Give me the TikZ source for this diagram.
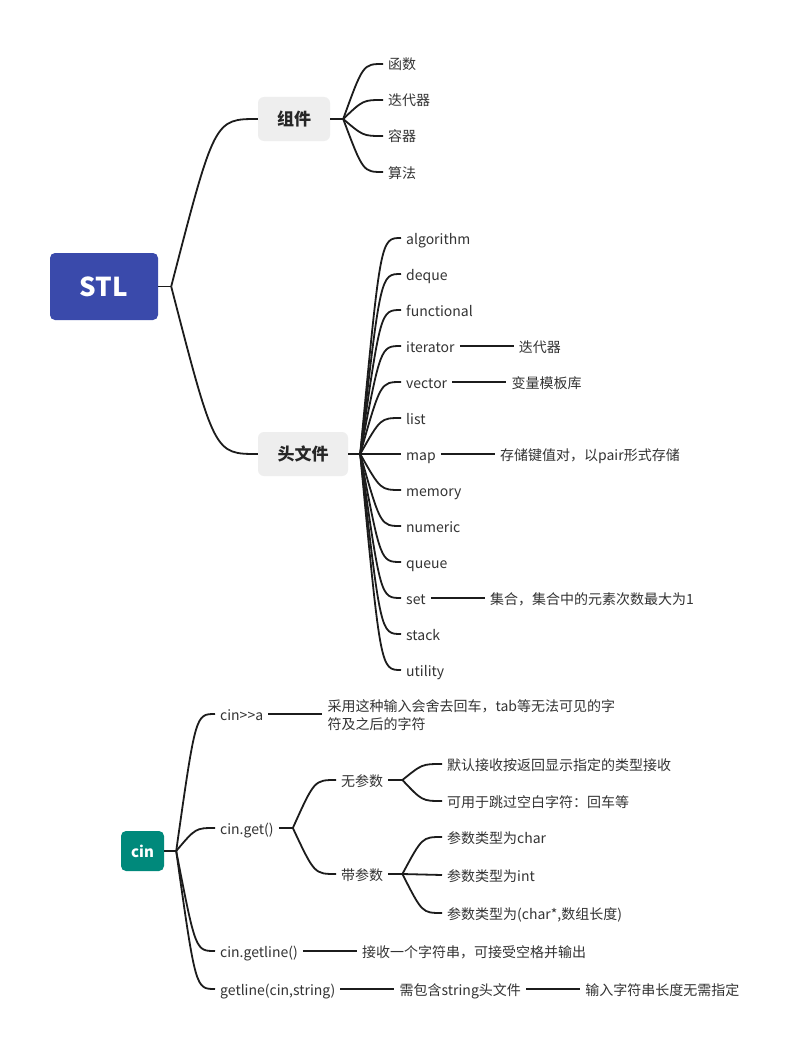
\documentclass[tikz,border=0pt]{standalone}
\usepackage{fontspec}
\setmainfont{Noto Sans CJK SC}
\usetikzlibrary{positioning,calc}
\definecolor{stlblue}{RGB}{58,74,171}
\definecolor{cinteal}{RGB}{0,137,123}
\definecolor{topicgray}{RGB}{238,238,238}
\definecolor{inkgray}{RGB}{51,51,51}
\definecolor{linkblack}{RGB}{28,28,28}
\tikzset{
	rootbox/.style = {rectangle, rounded corners = 5pt, text = white, inner sep = 0pt, font = \fontsize{26}{30}\selectfont\bfseries},
	topicbox/.style = {rectangle, rounded corners = 6pt, fill = topicgray, minimum height = 44pt, inner sep = 0pt, text = black!85, font = \fontsize{17}{20}\selectfont\bfseries},
	leafnode/.style = {anchor = west, inner xsep = 5pt, inner ysep = 0pt, text height = 13pt, text depth = 1pt, text = inkgray, font = \fontsize{14}{17}\selectfont},
	notenode/.style = {anchor = west, inner xsep = 5pt, inner ysep = 0pt, align = left, text = inkgray, font = \fontsize{14}{18}\selectfont},
	linkline/.style = {line width = 1.8pt, draw = linkblack},
	fanout/.style = {to path = {let \p1 = (\tikztostart), \p2 = (\tikztotarget), \n1 = {0.5*(\x1+\x2)} in .. controls (\n1,\y2) and (\n1,\y2) .. (\tikztotarget)}}
}
\begin{document}
\begin{tikzpicture}[x = 1pt, y = 1pt]
	\path[use as bounding box, fill = white] (0,0) rectangle (795,-1054);
	
	% Root STL and its two topics
	\node[rootbox, fill = stlblue, minimum width = 108pt, minimum height = 67pt] (stl) at (104,-286.5) {STL};
	\node[topicbox, minimum width = 72pt] (comp) at (294,-119) {组件};
	\node[topicbox, minimum width = 90pt] (hdr) at (303,-454) {头文件};
	\coordinate[right = 13pt of stl] (stlj);
	\draw[linkline] (stl) -- (stlj);
	\draw[linkline] (stlj) to[fanout] (comp.west);
	\draw[linkline] (stlj) to[fanout] (hdr.west);
	
	% Components
	\coordinate[right = 13pt of comp] (compj);
	\node[leafnode] (func) at (383,-64) {函数};
	\node[leafnode] (iterc) at (383,-100) {迭代器};
	\node[leafnode] (cont) at (383,-136) {容器};
	\node[leafnode] (algo) at (383,-172) {算法};
	\draw[linkline] (comp) -- (compj);
	\draw[linkline] (compj) to[fanout] (func.west);
	\draw[linkline] (compj) to[fanout] (iterc.west);
	\draw[linkline] (compj) to[fanout] (cont.west);
	\draw[linkline] (compj) to[fanout] (algo.west);
	
	% Header files
	\coordinate[right = 12pt of hdr] (hdrj);
	\node[leafnode] (alg) at (401,-238) {algorithm};
	\node[leafnode] (deq) at (401,-274) {deque};
	\node[leafnode] (fnl) at (401,-310) {functional};
	\node[leafnode] (iter) at (401,-346) {iterator};
	\node[leafnode] (vec) at (401,-382) {vector};
	\node[leafnode] (lst) at (401,-418) {list};
	\node[leafnode] (mp) at (401,-454) {map};
	\node[leafnode] (mem) at (401,-490) {memory};
	\node[leafnode] (num) at (401,-526) {numeric};
	\node[leafnode] (que) at (401,-562) {queue};
	\node[leafnode] (st) at (401,-598) {set};
	\node[leafnode] (stk) at (401,-634) {stack};
	\node[leafnode] (utl) at (401,-670) {utility};
	\draw[linkline] (hdr) -- (hdrj);
	\draw[linkline] (hdrj) to[fanout] (alg.west);
	\draw[linkline] (hdrj) to[fanout] (deq.west);
	\draw[linkline] (hdrj) to[fanout] (fnl.west);
	\draw[linkline] (hdrj) to[fanout] (iter.west);
	\draw[linkline] (hdrj) to[fanout] (vec.west);
	\draw[linkline] (hdrj) to[fanout] (lst.west);
	\draw[linkline] (hdrj) to[fanout] (mp.west);
	\draw[linkline] (hdrj) to[fanout] (mem.west);
	\draw[linkline] (hdrj) to[fanout] (num.west);
	\draw[linkline] (hdrj) to[fanout] (que.west);
	\draw[linkline] (hdrj) to[fanout] (st.west);
	\draw[linkline] (hdrj) to[fanout] (stk.west);
	\draw[linkline] (hdrj) to[fanout] (utl.west);
	
	% Notes on some headers
	\node[leafnode, right = 54pt of iter] (iterd) {迭代器};
	\node[leafnode, right = 54pt of vec] (vecd) {变量模板库};
	\node[leafnode, right = 54pt of mp] (mpd) {存储键值对，以pair形式存储};
	\node[leafnode, right = 54pt of st] (std) {集合，集合中的元素次数最大为1};
	\draw[linkline] (iter.east) -- (iterd.west);
	\draw[linkline] (vec.east) -- (vecd.west);
	\draw[linkline] (mp.east) -- (mpd.west);
	\draw[linkline] (st.east) -- (std.west);
	
	% Root cin
	\node[rootbox, fill = cinteal, minimum width = 43pt, minimum height = 40pt, font = \fontsize{15}{18}\selectfont\bfseries] (cin) at (142.5,-851) {cin};
	\coordinate[right = 12pt of cin] (cinj);
	\node[leafnode] (cina) at (215,-714) {cin>{}>a};
	\node[leafnode] (cinget) at (215,-828) {cin.get()};
	\node[leafnode] (cingl) at (215,-951) {cin.getline()};
	\node[leafnode] (gl) at (215,-989) {getline(cin,string)};
	\draw[linkline] (cin) -- (cinj);
	\draw[linkline] (cinj) to[fanout] (cina.west);
	\draw[linkline] (cinj) to[fanout] (cinget.west);
	\draw[linkline] (cinj) to[fanout] (cingl.west);
	\draw[linkline] (cinj) to[fanout] (gl.west);
	
	% cin>>a
	\node[notenode, right = 54pt of cina, yshift = -1.5pt] (cinad) {采用这种输入会舍去回车，tab等无法可见的字\\符及之后的字符};
	\draw[linkline] (cina.east) -- (cina.east -| cinad.west);
	
	% cin.get()
	\coordinate[right = 14pt of cinget] (getj);
	\node[leafnode] (noarg) at (336,-780) {无参数};
	\node[leafnode] (witharg) at (336,-874) {带参数};
	\draw[linkline] (cinget) -- (getj);
	\draw[linkline] (getj) to[fanout] (noarg.west);
	\draw[linkline] (getj) to[fanout] (witharg.west);
	
	\coordinate[right = 14pt of noarg] (noargj);
	\node[leafnode] (noarga) at (442,-764) {默认接收按返回显示指定的类型接收};
	\node[leafnode] (noargb) at (442,-801) {可用于跳过空白字符：回车等};
	\draw[linkline] (noarg) -- (noargj);
	\draw[linkline] (noargj) to[fanout] (noarga.west);
	\draw[linkline] (noargj) to[fanout] (noargb.west);
	
	\coordinate[right = 14pt of witharg] (withargj);
	\node[leafnode] (withch) at (442,-837) {参数类型为char};
	\node[leafnode] (withint) at (442,-875) {参数类型为int};
	\node[leafnode] (witharr) at (442,-913) {参数类型为(char*,数组长度)};
	\draw[linkline] (witharg) -- (withargj);
	\draw[linkline] (withargj) to[fanout] (withch.west);
	\draw[linkline] (withargj) to[fanout] (withint.west);
	\draw[linkline] (withargj) to[fanout] (witharr.west);
	
	% getline variants
	\node[leafnode, right = 54pt of cingl] (cingld) {接收一个字符串，可接受空格并输出};
	\node[leafnode, right = 54pt of gl] (gld) {需包含string头文件};
	\node[leafnode, right = 54pt of gld] (gldd) {输入字符串长度无需指定};
	\draw[linkline] (cingl.east) -- (cingld.west);
	\draw[linkline] (gl.east) -- (gld.west);
	\draw[linkline] (gld.east) -- (gldd.west);
	
\end{tikzpicture}
\end{document}
